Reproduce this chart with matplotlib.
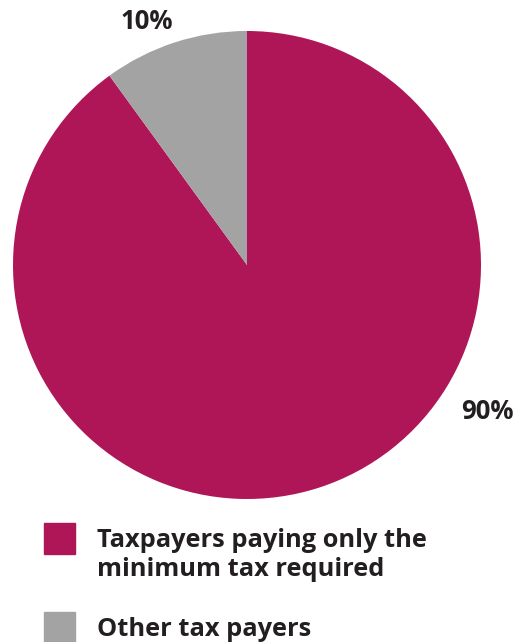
import matplotlib
matplotlib.use("Agg")
import matplotlib.pyplot as plt
from matplotlib.patches import Rectangle

categories = ["Taxpayers paying only the\nminimum tax required", "Other tax payers"]
values = [90, 10]
colors = ["#AF1657", "#A3A3A3"]
labels = ["90%", "10%"]
label_pos = [(1.026, -0.628), (-0.428, 1.04)]  # data coords on the pie axes

plt.rcParams["font.family"] = ["Open Sans", "DejaVu Sans"]
text_color = "#231F20"

W, H = 523, 642
fig = plt.figure(figsize=(W / 100, H / 100), dpi=100)

cx, cy, r = 247, 265, 234
ax = fig.add_axes([(cx - r) / W, (H - cy - r) / H, 2 * r / W, 2 * r / H])
ax.pie(values, colors=colors, startangle=90, counterclock=False, radius=1,
       wedgeprops=dict(linewidth=0))
ax.set_xlim(-1, 1)
ax.set_ylim(-1, 1)
ax.set_aspect("equal")
ax.axis("off")

for lab, (x, y) in zip(labels, label_pos):
    ax.text(x, y, lab, ha="center", va="center", fontsize=18.5,
            fontweight="bold", color=text_color, clip_on=False)

# legend drawn in pixel positions
leg_y = [523, 612]
for cat, col, y in zip(categories, colors, leg_y):
    fig.patches.append(Rectangle((44 / W, 1 - (y + 31) / H), 31 / W, 31 / H,
                                 transform=fig.transFigure, color=col))
    fig.text(97 / W, 1 - (y + 5) / H, cat, ha="left", va="top", fontsize=18.3,
             fontweight="bold", color=text_color, linespacing=1.22)

fig.savefig("out.png", dpi=100)
